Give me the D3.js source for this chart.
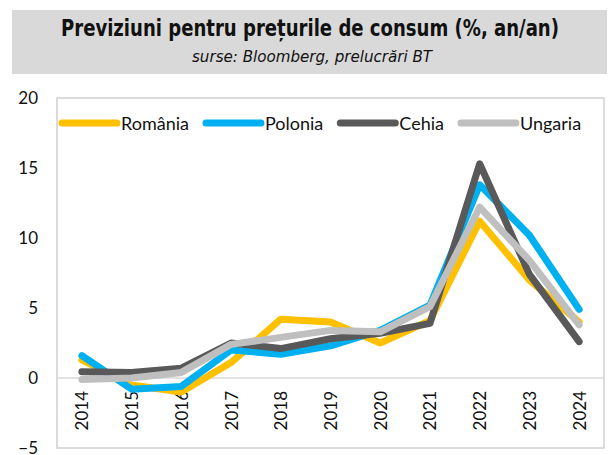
<!DOCTYPE html>
<html>
<head>
<meta charset="utf-8">
<title>Previziuni preturi de consum</title>
<script src="https://cdn.jsdelivr.net/npm/d3@7/dist/d3.min.js"></script>
<style>
  body { margin: 0; background: #fff; }
  svg { display: block; }
  text { font-family: Lato, "Liberation Sans", sans-serif; fill: #111; }
</style>
</head>
<body>
<svg id="chart" width="611" height="455"></svg>
<script>
// years on the x axis
var years = ["2014","2015","2016","2017","2018","2019","2020","2021","2022","2023","2024"];

// inflation, % y/y
var romania = [1.3, -0.5, -1.0, 1.1, 4.2, 4.0, 2.5, 4.1, 11.2, 7.0, 4.0];
var polonia = [1.6, -0.8, -0.6, 2.0, 1.7, 2.3, 3.4, 5.2, 13.8, 10.2, 4.9];
var cehia   = [0.45, 0.4, 0.7, 2.5, 2.1, 2.8, 3.2, 3.9, 15.3, 7.4, 2.6];
var ungaria = [-0.1, 0.0, 0.4, 2.4, 2.9, 3.4, 3.3, 5.1, 12.2, 8.4, 3.8];

var seriesNames = ["România", "Polonia", "Cehia", "Ungaria"];
var seriesColors = ["#FFC000", "#00B0F0", "#595959", "#BFBFBF"];
var yTicks = [-5, 0, 5, 10, 15, 20];

var series = [romania, polonia, cehia, ungaria].map(function (vals, i) {
  return { name: seriesNames[i], color: seriesColors[i], values: vals };
});

var svg = d3.select("#chart");

// title box
svg.append("rect")
  .attr("x", 12).attr("y", 10)
  .attr("width", 595).attr("height", 64)
  .attr("fill", "#d9d9d9");

svg.append("text")
  .attr("x", 310).attr("y", 36)
  .attr("text-anchor", "middle")
  .style("font-family", "'Liberation Sans Narrow', 'DejaVu Sans Condensed', sans-serif")
  .style("font-weight", "bold")
  .style("font-size", "23px")
  .attr("textLength", 498)
  .attr("lengthAdjust", "spacingAndGlyphs")
  .text("Previziuni pentru prețurile de consum (%, an/an)");

svg.append("text")
  .attr("x", 312).attr("y", 62)
  .attr("text-anchor", "middle")
  .style("font-family", "'Liberation Sans Narrow', 'DejaVu Sans Condensed', sans-serif")
  .style("font-style", "italic")
  .style("font-size", "16px")
  .attr("textLength", 240)
  .attr("lengthAdjust", "spacingAndGlyphs")
  .text("surse: Bloomberg, prelucrări BT");

// plot area
var plotL = 57, plotR = 604, plotT = 98, plotB = 448;

var x = d3.scalePoint().domain(years).range([plotL, plotR]).padding(0.5);
var y = d3.scaleLinear().domain([-5, 20]).range([plotB, plotT]);

svg.append("rect")
  .attr("x", plotL).attr("y", plotT)
  .attr("width", plotR - plotL).attr("height", plotB - plotT)
  .attr("fill", "none")
  .attr("stroke", "#d0d0d0")
  .attr("stroke-width", 1.5);

// y axis labels
var yAxis = d3.axisLeft(y).tickValues(yTicks).tickSize(0).tickPadding(19);
var gy = svg.append("g").attr("transform", "translate(" + plotL + ",0)").call(yAxis);
gy.select(".domain").remove();
gy.selectAll("text")
  .style("font-family", "Lato, sans-serif")
  .style("font-size", "17px")
  .attr("fill", "#111");

// zero line
svg.append("line")
  .attr("x1", plotL).attr("x2", plotR)
  .attr("y1", y(0)).attr("y2", y(0))
  .attr("stroke", "#d9d9d9")
  .attr("stroke-width", 1.5);

// x labels, rotated, under the zero line
svg.append("g").selectAll("text")
  .data(years)
  .enter().append("text")
  .attr("transform", function (d) { return "translate(" + x(d) + "," + (y(0) + 13) + ") rotate(-90)"; })
  .attr("text-anchor", "end")
  .attr("dominant-baseline", "central")
  .style("font-size", "17px")
  .text(function (d) { return d; });

// lines
var line = d3.line()
  .x(function (d, i) { return x(years[i]); })
  .y(function (d) { return y(d); });

svg.append("g").selectAll("path")
  .data(series)
  .enter().append("path")
  .attr("d", function (s) { return line(s.values); })
  .attr("fill", "none")
  .attr("stroke", function (s) { return s.color; })
  .attr("stroke-width", 7)
  .attr("stroke-linecap", "round")
  .attr("stroke-linejoin", "round");

// legend
var legend = svg.append("g");
var lx = 62, ly = 123;
series.forEach(function (s) {
  legend.append("line")
    .attr("x1", lx).attr("x2", lx + 55)
    .attr("y1", ly).attr("y2", ly)
    .attr("stroke", s.color)
    .attr("stroke-width", 7)
    .attr("stroke-linecap", "round");
  var t = legend.append("text")
    .attr("x", lx + 59).attr("y", ly)
    .attr("dominant-baseline", "central")
    .style("font-size", "18px")
    .text(s.name);
  lx += 59 + t.node().getComputedTextLength() + 17;
});
</script>
</body>
</html>
